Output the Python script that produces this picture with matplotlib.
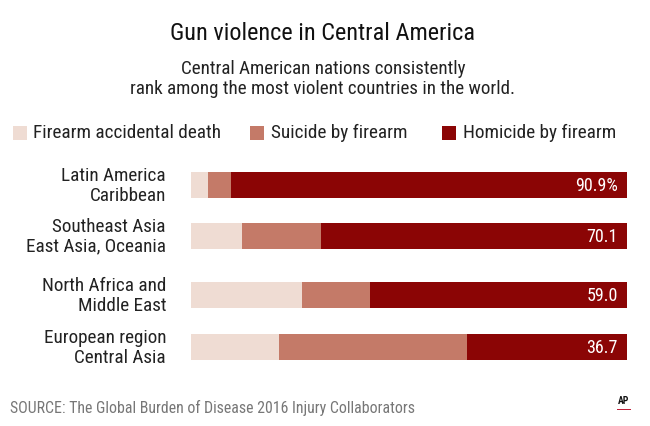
import matplotlib
matplotlib.use("Agg")
import matplotlib.pyplot as plt
from matplotlib.patches import Rectangle

plt.rcParams["font.family"] = ["Roboto Condensed", "DejaVu Sans"]

categories = ["Latin America\nCaribbean", "Southeast Asia\nEast Asia, Oceania",
              "North Africa and\nMiddle East", "European region\nCentral Asia"]
accidental = [4.0, 11.8, 25.5, 20.1]
suicide = [5.1, 18.1, 15.5, 43.2]
homicide = [90.9, 70.1, 59.0, 36.7]
value_labels = ["90.9%", "70.1", "59.0", "36.7"]
series_names = ["Firearm accidental death", "Suicide by firearm", "Homicide by firearm"]

colors = ["#EFDCD3", "#C47A68", "#8B0505"]
ypos = [186, 237, 296, 348]  # layout in pixel rows

W, H = 650, 427
fig = plt.figure(figsize=(W / 100, H / 100), dpi=100)
fig.patch.set_facecolor("white")
ax = fig.add_axes([191 / W, 0, 436 / W, 1])
ax.set_xlim(0, 100)
ax.set_ylim(H, 0)
ax.axis("off")

left = [0] * len(categories)
for vals, c in zip([accidental, suicide, homicide], colors):
    ax.barh(ypos, vals, left=left, height=26, color=c, linewidth=0)
    left = [l + v for l, v in zip(left, vals)]

for y, lab in zip(ypos, value_labels):
    ax.text(97.9, y, lab, color="white", fontsize=13, ha="right", va="center")

for y, cat in zip(ypos, categories):
    ax.annotate(cat, xy=(0, y), xytext=(-25, 0), textcoords="offset pixels",
                ha="right", va="center", fontsize=13.8, color="#222222",
                linespacing=1.1)

def px(x, y):
    return x / W, 1 - y / H

fig.text(*px(323, 33), "Gun violence in Central America", ha="center", va="center",
         fontsize=17.5, color="#111111")
fig.text(*px(323, 79), "Central American nations consistently\nrank among the most violent countries in the world.",
         ha="center", va="center", fontsize=13.7, color="#222222", linespacing=1.2)

leg_sq = [13, 250, 442]
leg_tx = [33, 271, 463]
for sx, tx, name, c in zip(leg_sq, leg_tx, series_names, colors):
    fig.patches.append(Rectangle(px(sx, 141), 14 / W, 14 / H, transform=fig.transFigure,
                                 facecolor=c, edgecolor="none"))
    fig.text(*px(tx, 133), name, ha="left", va="center", fontsize=13.9, color="#222222")

fig.text(*px(10, 408), "SOURCE: The Global Burden of Disease 2016 Injury Collaborators",
         ha="left", va="center", fontsize=11.4, color="#777777")
fig.text(*px(624, 401), "AP", ha="center", va="center", fontsize=7, fontweight="bold", color="#111111")
fig.patches.append(Rectangle(px(617, 411), 14 / W, 1.5 / H, transform=fig.transFigure,
                             facecolor="#C0203A", edgecolor="none"))

fig.savefig("out.png", dpi=100, facecolor="white")
